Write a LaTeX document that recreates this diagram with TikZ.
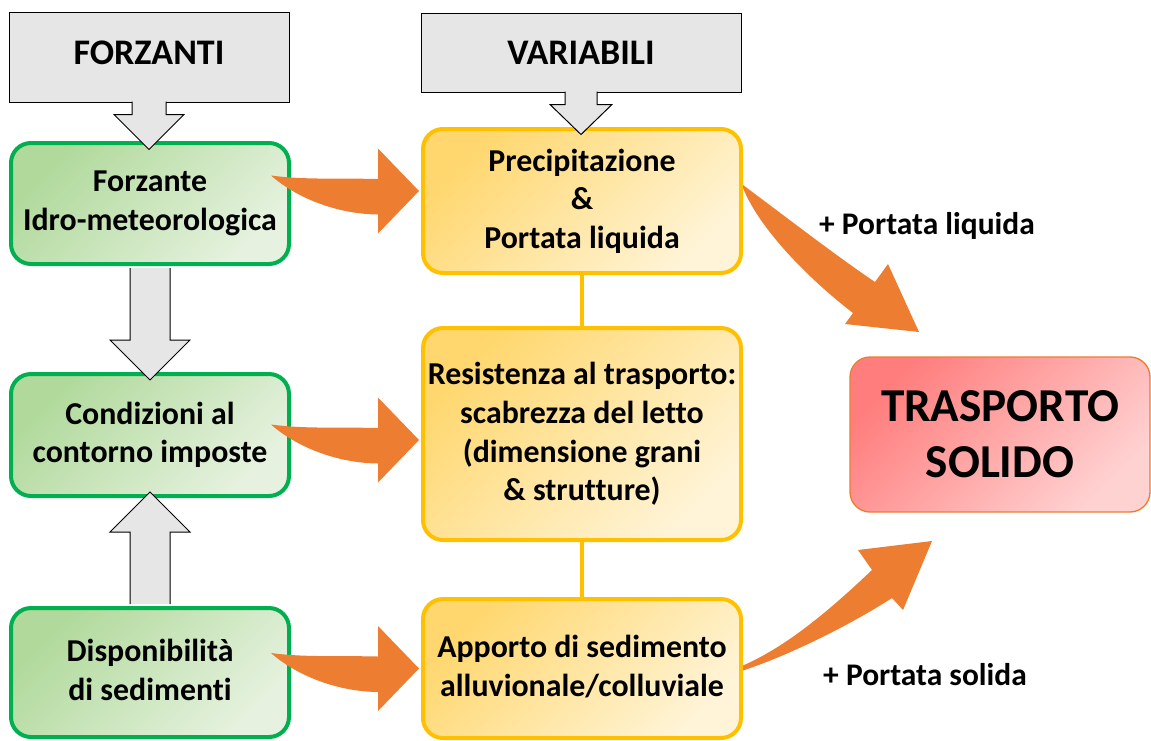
\documentclass[tikz,border=0pt]{standalone}
\usepackage{fontspec}
\setmainfont{Carlito}[Ligatures=NoCommon]
\usetikzlibrary{calc}

\definecolor{grigio}{RGB}{231,230,230}
\definecolor{verde}{RGB}{0,176,80}
\definecolor{verdeA}{RGB}{176,217,155}
\definecolor{verdeB}{RGB}{230,242,223}
\definecolor{giallo}{RGB}{255,192,0}
\definecolor{gialloA}{RGB}{255,215,110}
\definecolor{gialloB}{RGB}{255,244,215}
\definecolor{arancio}{RGB}{237,125,49}
\definecolor{rossoA}{RGB}{255,125,125}
\definecolor{rossoB}{RGB}{255,210,210}

\begin{document}
\begin{tikzpicture}[x=0.75pt,y=-0.75pt,
	font=\bfseries\fontsize{23.9}{29}\selectfont,
	intesta/.style={draw=black,line width=0.75pt,fill=grigio,inner sep=0pt,
		font=\bfseries\fontsize{27}{32}\selectfont},
	grigiofreccia/.style={draw=black,line width=0.75pt,fill=grigio,line join=miter},
	forzbox/.style={draw=verde,line width=3pt,rounded corners=15pt,
		top color=verdeA,bottom color=verdeB,shading angle=45,
		minimum width=208.5pt,align=center,inner sep=0pt},
	varbox/.style={draw=giallo,line width=3pt,rounded corners=15pt,
		top color=gialloA,bottom color=gialloB,shading angle=45,
		minimum width=238.5pt,align=center,inner sep=0pt},
	giallolinea/.style={draw=giallo,line width=3pt},
	swoosh/.style={fill=arancio},
	etichetta/.style={inner sep=0pt,font=\bfseries\fontsize{23.6}{28}\selectfont}]

	\useasboundingbox (0,0) rectangle (1151,740);

	% colonna delle forzanti
	\node[forzbox,minimum height=90.75pt,text depth=4pt] (f1) at (150,203.5) {Forzante\\Idro-meteorologica};
	\node[forzbox,minimum height=91.5pt,text depth=4pt] (f2) at (150,435) {Condizioni al\\contorno imposte};
	\node[forzbox,minimum height=96.75pt,text depth=4pt] (f3) at (150,672.5) {Disponibilità\\di sedimenti};

	% colonna delle variabili
	\node[varbox,minimum height=108pt] (v1) at (582,201) {Precipitazione\\\&\\Portata liquida};
	\node[varbox,minimum height=159pt] (v2) at (582,434) {Resistenza al trasporto:\\scabrezza del letto\\(dimensione grani\\\& strutture)};
	\node[varbox,minimum height=104.25pt,text depth=4pt] (v3) at (582,668.5) {Apporto di sedimento\\alluvionale/colluviale};

	\draw[giallolinea] (v1.south) -- (v2.north);
	\draw[giallolinea] (v2.south) -- (v3.north);

	% intestazioni
	\node[intesta,minimum width=210pt,minimum height=67.5pt,text depth=7pt] (forz) at (149,57) {FORZANTI};
	\node[intesta,minimum width=240pt,minimum height=59.25pt] (vari) at (581,52.5) {VARIABILI};
	\draw[grigiofreccia] ($(forz.south)+(-17,-1)$) -- ++(0,13) -- ++(-18,0) -- ++(35,35) -- ++(35,-35) -- ++(-18,0) -- ++(0,-13);
	\draw[grigiofreccia] ($(vari.south)+(-16,-1)$) -- ++(0,13) -- ++(-15,0) -- ++(31,30) -- ++(31,-30) -- ++(-15,0) -- ++(0,-13);

	% frecce grigie tra le forzanti
	\draw[grigiofreccia] ($(f1.south)+(-20,2)$) -- ++(0,72) -- ++(-20,0) -- ++(40,40) -- ++(40,-40) -- ++(-20,0) -- ++(0,-72);
	\draw[grigiofreccia] ($(f3.north)+(-20,-2)$) -- ++(0,-72) -- ++(-20,0) -- ++(40,-40) -- ++(40,40) -- ++(-20,0) -- ++(0,72);

	% frecce arancioni forzanti -> variabili
	\foreach \b/\d in {v1/-10, v2/6, v3/0}{
		\fill[swoosh,shift={($(\b.west)+(-2,\d)$)}] (0,0) -- (-41,-42.5) -- (-41,-12)
			.. controls (-80,-13) and (-115,-11) .. (-148,-15.5)
			.. controls (-125,5) and (-85,23) .. (-41,23.5) -- (-41,42.5) -- cycle;
	}

	% trasporto solido
	\node[draw=arancio,line width=1pt,rounded corners=15pt,top color=rossoA,bottom color=rossoB,
		shading angle=45,minimum width=225pt,minimum height=116.25pt,align=center,inner sep=0pt,
		font=\bfseries\fontsize{35.4}{42}\selectfont] (ts) at (1000,434.5) {TRASPORTO\\SOLIDO};

	\coordinate (pliq) at (919,332);
	\coordinate (psol) at (932,541);
	\fill[swoosh] ($(v1.east)+(0,-16)$) .. controls (790,220) and (835,255) .. (875,282)
		-- (888,264) -- (pliq) -- (845,324) -- (853,313)
		.. controls (810,280) and (760,230) .. ($(v1.east)+(0,-13)$) -- cycle;
	\fill[swoosh] ($(v3.east)+(0,-3)$) .. controls (790,645) and (835,605) .. (872,570)
		-- (858,550) -- (psol) -- (903,610) -- (892,598)
		.. controls (850,625) and (790,655) .. ($(v3.east)+(0,2)$) -- cycle;

	\node[etichetta] (lliq) at (927,226) {+ Portata liquida};
	\node[etichetta] (lsol) at (925,675) {+ Portata solida};
\end{tikzpicture}
\end{document}
